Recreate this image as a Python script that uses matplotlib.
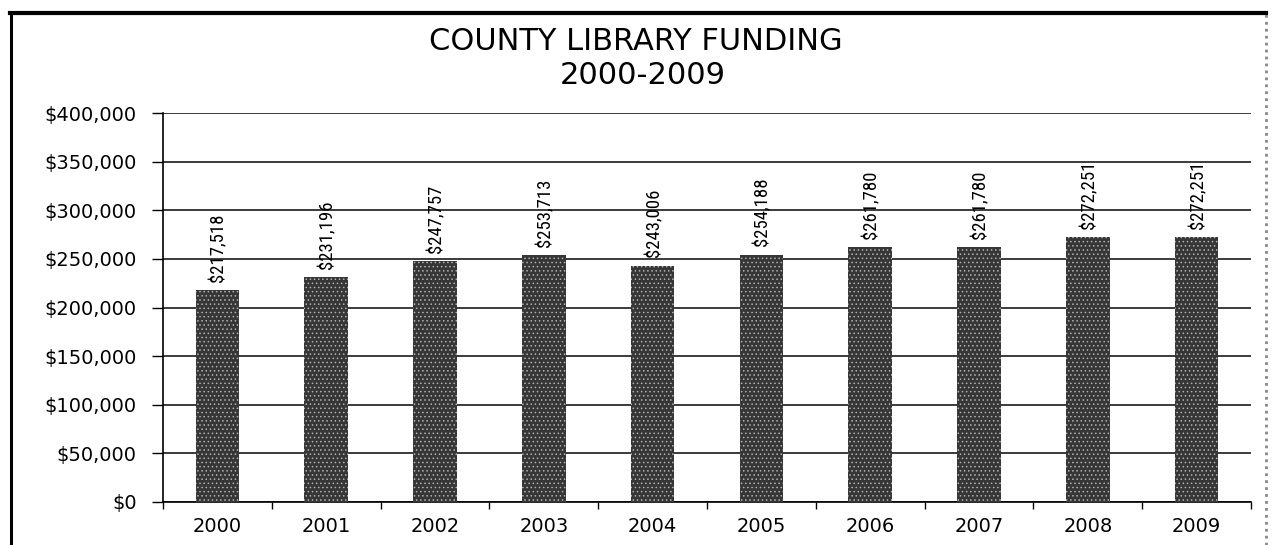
import matplotlib.pyplot as plt
import matplotlib.ticker as mticker
from matplotlib.lines import Line2D
from matplotlib import font_manager

# values
years = ["2000", "2001", "2002", "2003", "2004",
         "2005", "2006", "2007", "2008", "2009"]
funding = [217518, 231196, 247757, 253713, 243006,
           254188, 261780, 261780, 272251, 272251]
value_labels = ["$217,518", "$231,196", "$247,757", "$253,713", "$243,006",
                "$254,188", "$261,780", "$261,780", "$272,251", "$272,251"]
y_ticks = [0, 50000, 100000, 150000, 200000, 250000, 300000, 350000, 400000]

# narrow face for the value labels, if one is around
names = {f.name for f in font_manager.fontManager.ttflist}
narrow = [n for n in ["Liberation Sans Narrow", "DejaVu Sans Condensed",
                      "Roboto Condensed", "Open Sans Condensed"] if n in names]
label_family = narrow + ["DejaVu Sans"]

plt.rcParams["hatch.linewidth"] = 0.6

W, H = 1276, 545
fig = plt.figure(figsize=(W / 100, H / 100), dpi=100)
fig.patch.set_facecolor("white")

# frame of the pasted chart (left/top solid, right edge is scanner noise)
fig.add_artist(Line2D([11 / W, 11 / W], [0, 1 - 13 / H], color="black", lw=2.2,
                      transform=fig.transFigure))
fig.add_artist(Line2D([10 / W, 1266 / W], [1 - 13 / H, 1 - 13 / H], color="black",
                      lw=3, transform=fig.transFigure))
fig.add_artist(Line2D([1266 / W, 1266 / W], [0, 1 - 13 / H], color="#888888", lw=2,
                      ls=(0, (1, 1.5)), transform=fig.transFigure))

ax = fig.add_axes([163 / W, 43 / H, (1251 - 163) / W, (502 - 113) / H])

x = list(range(len(years)))
ax.bar(x, funding, width=0.40, color="#363636", edgecolor="#b0b0b0",
       hatch="....", linewidth=0, zorder=3)

for xi, val, lab in zip(x, funding, value_labels):
    ax.annotate(lab, (xi, val), xytext=(1, 6), textcoords="offset points",
                rotation=90, ha="center", va="bottom", fontsize=13.5,
                family=label_family, fontstretch="condensed", color="black",
                zorder=4)

ax.set_xlim(-0.5, len(years) - 0.5)
ax.set_ylim(0, 400000)
ax.set_yticks(y_ticks)
ax.yaxis.set_major_formatter(mticker.FuncFormatter(lambda v, p: "${:,.0f}".format(v)))
ax.grid(axis="y", color="#1a1a1a", linewidth=1.2, zorder=0)
ax.set_axisbelow(True)

# x ticks sit on category boundaries, labels at centres
ax.set_xticks([i - 0.5 for i in range(len(years) + 1)])
ax.set_xticklabels([])
ax.set_xticks(x, minor=True)
ax.set_xticklabels(years, minor=True)
ax.tick_params(axis="x", which="major", length=5, width=1, direction="out", color="black")
ax.tick_params(axis="x", which="minor", length=0, pad=11, labelsize=14)
ax.tick_params(axis="y", length=8, width=1, direction="out", pad=11, labelsize=14)

for side in ["top", "right"]:
    ax.spines[side].set_visible(False)
ax.spines["left"].set_linewidth(1.2)
ax.spines["bottom"].set_linewidth(1.2)

fig.text(636 / W, 1 - 42 / H, "COUNTY LIBRARY FUNDING", ha="center", va="center",
         fontsize=22, color="black")
fig.text(643 / W, 1 - 76 / H, "2000-2009", ha="center", va="center",
         fontsize=22, color="black")

fig.savefig("out.png", dpi=100)
